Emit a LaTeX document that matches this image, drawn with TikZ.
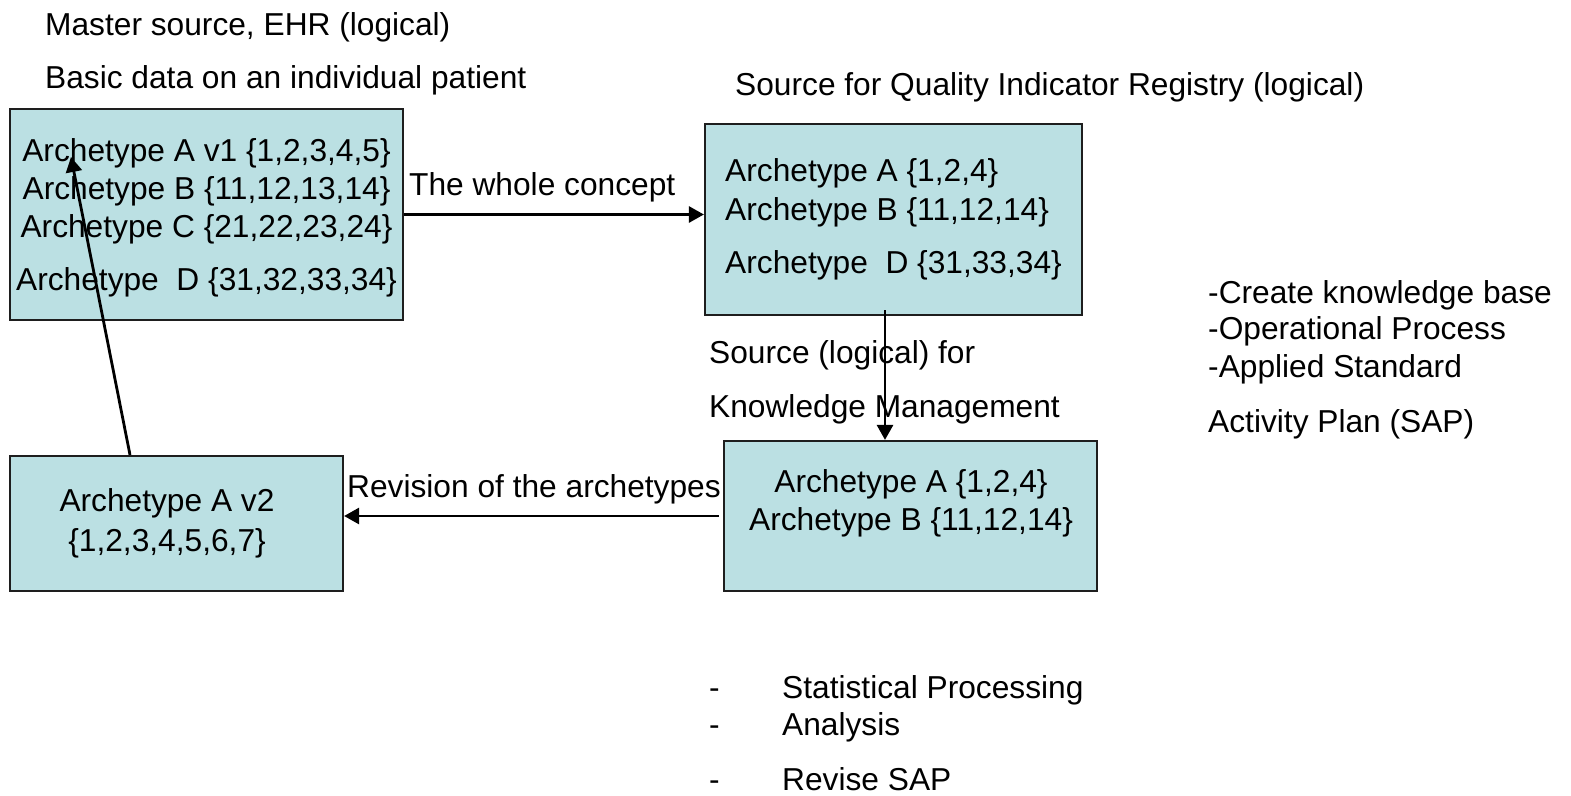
\documentclass[tikz,border=0pt]{standalone}
\usepackage{fontspec}
\setmainfont{Liberation Sans}
\usetikzlibrary{arrows.meta}
\definecolor{boxfill}{RGB}{187,224,227}
\definecolor{boxline}{RGB}{30,30,30}
\tikzset{
  abox/.style={draw=boxline, fill=boxfill, line width=2.2pt, inner sep=0pt, rectangle},
  txt/.style={inner sep=0pt, font=\fontsize{31.7}{38}\selectfont},
  arr/.style={line width=2.8pt, -{Triangle[length=15pt,width=16pt]}},
}
\begin{document}
\begin{tikzpicture}[x=1pt,y=-1pt]
\useasboundingbox (0,0) rectangle (1571,795);
% boxes
\node[abox, minimum width=393pt, minimum height=211pt] (b1) at (206.5,214.5) {};
\node[abox, minimum width=377pt, minimum height=191pt] (b2) at (893.5,219.5) {};
\node[abox, minimum width=373pt, minimum height=150pt] (b3) at (910.5,516) {};
\node[abox, minimum width=333pt, minimum height=135pt] (b4) at (176.5,523.5) {};
% box 1 text
\node[txt, anchor=base] (t11) at (206.5,161) {Archetype A v1 \{1,2,3,4,5\}};
\node[txt, anchor=base] (t12) at (206.5,199) {Archetype B \{11,12,13,14\}};
\node[txt, anchor=base] (t13) at (206.5,237) {Archetype C \{21,22,23,24\}};
\node[txt, anchor=base] (t14) at (206.5,290) {Archetype~~D \{31,32,33,34\}};
% box 2 text
\node[txt, anchor=base west] (t21) at (725,181) {Archetype A \{1,2,4\}};
\node[txt, anchor=base west] (t22) at (725,220) {Archetype B \{11,12,14\}};
\node[txt, anchor=base west] (t23) at (725,273) {Archetype~~D \{31,33,34\}};
% box 3 text
\node[txt, anchor=base] (t31) at (911,492) {Archetype A \{1,2,4\}};
\node[txt, anchor=base] (t32) at (911,530) {Archetype B \{11,12,14\}};
% box 4 text
\node[txt, anchor=base] (t41) at (167,511) {Archetype A v2};
\node[txt, anchor=base] (t42) at (167,551) {\{1,2,3,4,5,6,7\}};
% top labels
\node[txt, anchor=base west] (l1) at (45,35) {Master source, EHR (logical)};
\node[txt, anchor=base west] (l2) at (45,88) {Basic data on an individual patient};
\node[txt, anchor=base west] (l3) at (735,95) {Source for Quality Indicator Registry (logical)};
% connector labels
\node[txt, anchor=base west] (c1) at (409,195) {The whole concept};
\node[txt, anchor=base west] (c2) at (709,363) {Source (logical) for};
\node[txt, anchor=base west] (c3) at (709,417) {Knowledge Management};
\node[txt, anchor=base west] (c4) at (347,497) {Revision of the archetypes};
% right list
\node[txt, anchor=base west] (r1) at (1208,303) {-Create knowledge base};
\node[txt, anchor=base west] (r2) at (1208,339) {-Operational Process};
\node[txt, anchor=base west] (r3) at (1208,377) {-Applied Standard};
\node[txt, anchor=base west] (r4) at (1208,432) {Activity Plan (SAP)};
% bottom list
\node[txt, anchor=base west] (d1) at (709,698) {-};
\node[txt, anchor=base west] (s1) at (782,698) {Statistical Processing};
\node[txt, anchor=base west] (d2) at (709,735) {-};
\node[txt, anchor=base west] (s2) at (782,735) {Analysis};
\node[txt, anchor=base west] (d3) at (709,790) {-};
\node[txt, anchor=base west] (s3) at (782,790) {Revise SAP};
% connectors
\coordinate (vx) at (885,0);
\coordinate (dx) at (130,0);
\coordinate (tip) at (71,157);
\draw[arr] (b1.east) -- (b1.east -| b2.west);
\draw[arr] ([yshift=6pt]b2.south -| vx) -- (b3.north -| vx);
\draw[arr] ([xshift=-4pt]b3.west) -- (b3.west -| b4.east);
\draw[arr] (b4.north -| dx) -- (tip);
\end{tikzpicture}
\end{document}
